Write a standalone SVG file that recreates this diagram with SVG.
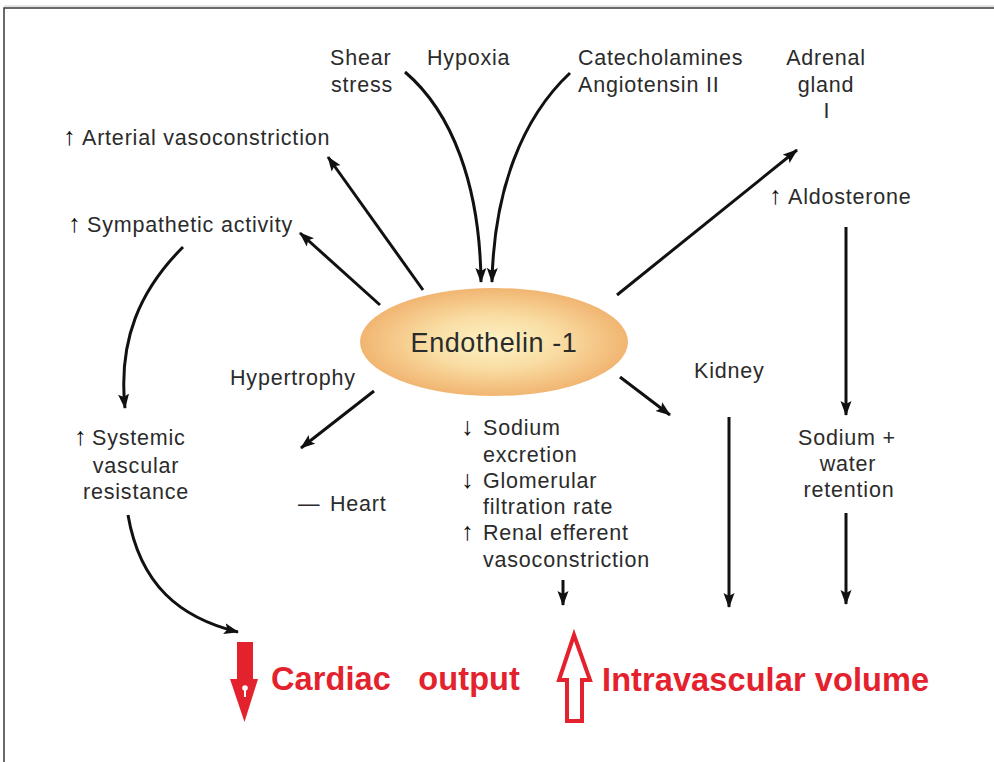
<svg xmlns="http://www.w3.org/2000/svg" width="994" height="762" viewBox="0 0 994 762">
<style>
.t{font-family:"Liberation Sans",Arial,sans-serif;font-size:21.5px;fill:#2b2b2b;letter-spacing:0.8px}
.ar{font-size:25px;font-weight:bold;letter-spacing:0;fill:#111}
.c{text-anchor:middle}
.red{font-family:"Liberation Sans",Arial,sans-serif;font-size:32.5px;font-weight:bold;fill:#e3222d;white-space:pre;letter-spacing:0.1px}
.ln{fill:none;stroke:#111;stroke-width:3;marker-end:url(#ah)}
</style>
<defs>
<marker id="ah" markerUnits="userSpaceOnUse" markerWidth="16" markerHeight="12" refX="14" refY="6" orient="auto">
<path d="M0,0.5 L15,6 L0,11.5 L3,6 z" fill="#111"/>
</marker>
<radialGradient id="eg" cx="0.5" cy="0.5" r="0.5">
<stop offset="0" stop-color="#fdf3c6"/>
<stop offset="0.5" stop-color="#f9dca2"/>
<stop offset="1" stop-color="#f1b571"/>
</radialGradient>
</defs>
<rect width="994" height="762" fill="#fff"/>
<path d="M4,762 V8 H994" fill="none" stroke="#3a3a3a" stroke-width="1.5"/>
<line x1="4" y1="6" x2="994" y2="6" stroke="#c8c8c8" stroke-width="1"/>

<g id="shear"><text class="t" x="330" y="65">Shear</text><text class="t" x="331" y="92">stress</text></g>
<g id="hypoxia"><text class="t" x="427" y="65">Hypoxia</text></g>
<g id="catecholamines"><text class="t" x="578" y="65">Catecholamines</text><text class="t" x="578" y="92">Angiotensin II</text></g>
<g id="adrenal"><text class="t c" x="826" y="65">Adrenal</text><text class="t c" x="826" y="92">gland</text><text class="t c" x="827" y="118">I</text></g>
<g id="arterial"><text class="t" y="145"><tspan class="ar" x="63">↑</tspan><tspan x="82">Arterial vasoconstriction</tspan></text></g>
<g id="sympathetic"><text class="t" y="232"><tspan class="ar" x="68">↑</tspan><tspan x="87">Sympathetic activity</tspan></text></g>
<g id="aldosterone"><text class="t" y="204"><tspan class="ar" x="769">↑</tspan><tspan x="788">Aldosterone</tspan></text></g>
<g id="endothelin">
<ellipse cx="494" cy="342" rx="134" ry="54" fill="url(#eg)"/>
<text class="t c" x="494" y="352" style="font-size:27px;letter-spacing:0.6px">Endothelin -1</text>
</g>
<g id="hypertrophy"><text class="t" x="230" y="385">Hypertrophy</text></g>
<g id="kidney"><text class="t" x="694" y="378">Kidney</text></g>
<g id="systemic"><text class="t" y="445"><tspan class="ar" x="74">↑</tspan><tspan x="92">Systemic</tspan></text><text class="t c" x="136" y="473">vascular</text><text class="t c" x="136" y="499">resistance</text></g>
<g id="heart"><text class="t" y="511"><tspan x="298">—</tspan><tspan x="330">Heart</tspan></text></g>
<g id="renal">
<text class="t" y="435"><tspan class="ar" x="461">↓</tspan><tspan x="483">Sodium</tspan></text>
<text class="t" x="483" y="462">excretion</text>
<text class="t" y="488"><tspan class="ar" x="461">↓</tspan><tspan x="483">Glomerular</tspan></text>
<text class="t" x="483" y="514">filtration rate</text>
<text class="t" y="540"><tspan class="ar" x="461">↑</tspan><tspan x="483">Renal efferent</tspan></text>
<text class="t" x="483" y="567">vasoconstriction</text>
</g>
<g id="retention"><text class="t c" x="847" y="445">Sodium +</text><text class="t c" x="848" y="471">water</text><text class="t c" x="849" y="497">retention</text></g>

<g id="cardiac">
<path d="M237,642 H253 V679 H258 L244.5,722 L230,679 H237 z" fill="#e3222d"/>
<circle cx="245" cy="688" r="2.8" fill="#fff"/><rect x="244" y="688" width="2" height="9" fill="#fff"/>
<text class="red" x="271" y="690">Cardiac   output</text>
</g>
<g id="intravascular">
<path d="M574,635 L590,680 H582 V721 H567 V680 H559 z" fill="#fff" stroke="#e3222d" stroke-width="4" stroke-linejoin="miter"/>
<text class="red" x="602" y="691">Intravascular volume</text>
</g>

<g id="connectors">
<path class="ln" d="M405,72 C452,112 480,185 481,282"/>
<path class="ln" d="M570,73 C522,118 494,190 492,282"/>
<path class="ln" d="M423,290 L328,157"/>
<path class="ln" d="M380,305 L300,233"/>
<path class="ln" d="M617,295 L797,150"/>
<path class="ln" d="M374,391 L301,448"/>
<path class="ln" d="M620,377 L670,415"/>
<path class="ln" d="M183,247 C140,290 118,340 125,408"/>
<path class="ln" d="M128,515 C140,585 180,618 238,632"/>
<path class="ln" d="M563,580 L563,605"/>
<path class="ln" d="M729,417 L729,607"/>
<path class="ln" d="M846,227 L846,415"/>
<path class="ln" d="M846,513 L846,604"/>
</g>
</svg>
